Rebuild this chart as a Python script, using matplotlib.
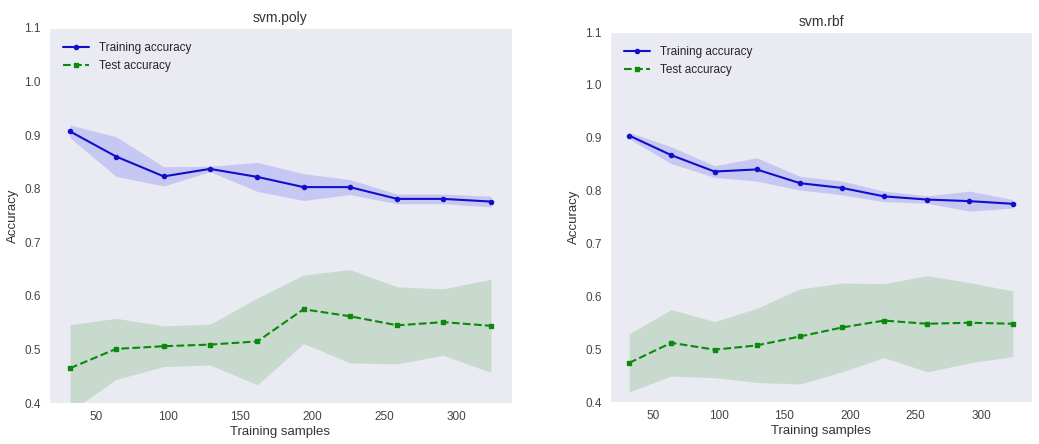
import numpy as np
import matplotlib
matplotlib.use("Agg")
import matplotlib.pyplot as plt
import seaborn as sns

train_sizes = [32, 64, 97, 129, 162, 194, 226, 259, 291, 324]

poly_train_mean = [0.907, 0.860, 0.823, 0.837, 0.822, 0.803, 0.803, 0.781, 0.781, 0.776]
poly_train_std = [0.012, 0.037, 0.018, 0.005, 0.027, 0.025, 0.014, 0.009, 0.009, 0.010]
poly_test_mean = [0.465, 0.501, 0.506, 0.509, 0.515, 0.575, 0.562, 0.545, 0.551, 0.544]
poly_test_std = [0.081, 0.057, 0.038, 0.038, 0.081, 0.064, 0.087, 0.072, 0.062, 0.087]

rbf_train_mean = [0.904, 0.867, 0.836, 0.840, 0.814, 0.805, 0.789, 0.783, 0.780, 0.775]
rbf_train_std = [0.006, 0.016, 0.011, 0.022, 0.013, 0.013, 0.010, 0.007, 0.019, 0.008]
rbf_test_mean = [0.474, 0.512, 0.499, 0.507, 0.524, 0.541, 0.554, 0.548, 0.550, 0.548]
rbf_test_std = [0.055, 0.063, 0.053, 0.070, 0.090, 0.084, 0.070, 0.091, 0.076, 0.062]

sns.set_style("dark")
plt.rcParams["font.family"] = ["Liberation Sans", "DejaVu Sans"]

fig = plt.figure(figsize=(10.39, 4.44), dpi=100)
ax1 = fig.add_axes([49 / 1039, 41 / 444, 463 / 1039, 375 / 444])
ax2 = fig.add_axes([610 / 1039, 42 / 444, 422 / 1039, 370 / 444])


def plot_curve(ax, title, tr_m, tr_s, te_m, te_s):
    x = np.array(train_sizes)
    tr_m, tr_s = np.array(tr_m), np.array(tr_s)
    te_m, te_s = np.array(te_m), np.array(te_s)
    ax.plot(x, tr_m, color="#1010c8", marker="o", markersize=3, lw=1.5,
            label="Training accuracy")
    ax.fill_between(x, tr_m + tr_s, tr_m - tr_s, alpha=0.15, color="blue", lw=0)
    ax.plot(x, te_m, color="#0a8a0a", marker="s", markersize=3, lw=1.5,
            linestyle="--", label="Test accuracy")
    ax.fill_between(x, te_m + te_s, te_m - te_s, alpha=0.15, color="green", lw=0)
    ax.set_ylim(0.4, 1.1)
    ax.set_xticks([50, 100, 150, 200, 250, 300])
    ax.set_title(title, fontsize=10, color="#333333", pad=4)
    ax.set_xlabel("Training samples", fontsize=9.5, color="#333333", labelpad=2)
    ax.set_ylabel("Accuracy", fontsize=9.5, color="#333333", labelpad=4)
    ax.tick_params(labelsize=8.5, colors="#444444", length=0, pad=6)
    ax.legend(loc="upper left", frameon=False, fontsize=8.5,
              handlelength=2.2, borderaxespad=0.8)


plot_curve(ax1, "svm.poly", poly_train_mean, poly_train_std,
           poly_test_mean, poly_test_std)
plot_curve(ax2, "svm.rbf", rbf_train_mean, rbf_train_std,
           rbf_test_mean, rbf_test_std)

fig.savefig("out.png", dpi=100)
